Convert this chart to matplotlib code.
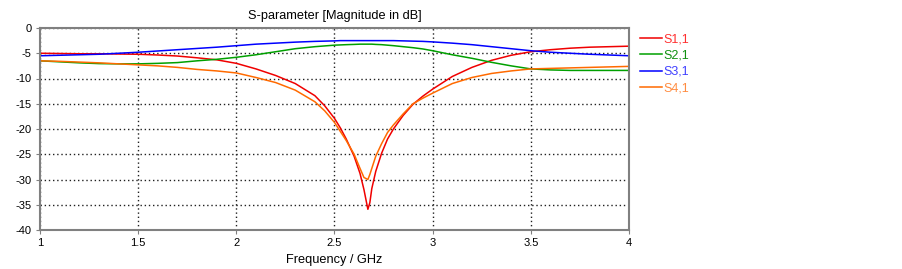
import matplotlib
matplotlib.use("Agg")
import matplotlib.pyplot as plt

plt.rcParams["font.family"] = ["Liberation Sans", "DejaVu Sans"]
plt.rcParams["axes.unicode_minus"] = False

# Frequency points (GHz)
freq = [1.0, 1.1, 1.2, 1.3, 1.4, 1.5, 1.6, 1.7, 1.8, 1.9, 2.0, 2.1, 2.2, 2.3, 2.4,
        2.45, 2.5, 2.53, 2.56, 2.6, 2.63, 2.65, 2.67, 2.68, 2.69, 2.71, 2.74, 2.77, 2.8,
        2.85, 2.9, 2.95, 3.0, 3.1, 3.2, 3.3, 3.4, 3.5, 3.6, 3.7, 3.8, 3.9, 4.0]

# Magnitudes in dB
s11 = [-5.0, -5.05, -5.1, -5.1, -5.15, -5.2, -5.35, -5.55, -5.9, -6.3, -7.0, -8.1, -9.4, -11.0, -13.4,
       -15.4, -17.9, -19.8, -22.0, -25.4, -28.8, -32.0, -35.9, -34.6, -31.8, -28.4, -24.8, -22.0, -20.0,
       -17.3, -15.1, -13.5, -12.1, -9.6, -7.8, -6.4, -5.4, -4.7, -4.3, -4.0, -3.8, -3.7, -3.6]
s21 = [-6.5, -6.7, -6.9, -7.05, -7.1, -7.1, -7.0, -6.85, -6.5, -6.2, -5.8, -5.3, -4.7, -4.1, -3.7,
       -3.55, -3.4, -3.35, -3.3, -3.25, -3.2, -3.2, -3.2, -3.2, -3.2, -3.25, -3.3, -3.4, -3.5,
       -3.7, -3.9, -4.15, -4.5, -5.3, -6.0, -6.8, -7.5, -8.1, -8.3, -8.4, -8.4, -8.4, -8.4]
s31 = [-5.5, -5.4, -5.3, -5.2, -5.0, -4.8, -4.55, -4.3, -4.05, -3.8, -3.5, -3.2, -3.0, -2.8, -2.65,
       -2.6, -2.55, -2.5, -2.5, -2.5, -2.5, -2.5, -2.5, -2.5, -2.5, -2.5, -2.5, -2.5, -2.5,
       -2.55, -2.6, -2.65, -2.75, -3.0, -3.3, -3.7, -4.1, -4.5, -4.8, -5.0, -5.2, -5.35, -5.5]
s41 = [-6.5, -6.6, -6.75, -6.9, -7.1, -7.3, -7.5, -7.8, -8.2, -8.5, -8.9, -9.8, -10.8, -12.3, -14.6,
       -16.4, -18.7, -20.5, -22.3, -25.0, -27.8, -29.6, -30.0, -29.0, -27.8, -25.4, -22.9, -20.7, -19.2,
       -17.0, -15.0, -13.9, -12.9, -11.0, -9.8, -9.0, -8.5, -8.1, -8.0, -7.9, -7.8, -7.7, -7.6]

labels = ["S1,1", "S2,1", "S3,1", "S4,1"]
colors = ["#f00000", "#00a000", "#0000ff", "#ff6a00"]
text_colors = ["#ff3030", "#109010", "#4040ff", "#ff8c40"]

fig = plt.figure(figsize=(9.03, 2.69), dpi=100)
ax = fig.add_axes([40 / 903, 1 - 230 / 269, 589 / 903, 202 / 269])

for y, lab, c in zip([s11, s21, s31, s41], labels, colors):
    ax.plot(freq, y, color=c, lw=1.1, label=lab)

ax.set_xlim(1, 4)
ax.set_ylim(-40, 0)
ax.set_xticks([1, 1.5, 2, 2.5, 3, 3.5, 4])
ax.set_xticklabels(["1", "1.5", "2", "2.5", "3", "3.5", "4"])
ax.set_yticks(range(-40, 1, 5))
ax.grid(True, ls=(0, (1, 2)), color="#202020", lw=1.0)
ax.tick_params(labelsize=8, length=3, color="#808080", pad=3)
for sp in ax.spines.values():
    sp.set_color("#808080")
    sp.set_linewidth(1.5)

ax.set_title("S-parameter [Magnitude in dB]", fontsize=9.2, pad=6.5)
ax.set_xlabel("Frequency / GHz", fontsize=9.2, labelpad=4)

leg = ax.legend(loc="upper left", bbox_to_anchor=(635 / 903, 1 - 28 / 269),
                bbox_transform=fig.transFigure, frameon=False, borderaxespad=0,
                fontsize=9, handlelength=1.75, handletextpad=0.15, labelspacing=0.36)
for t, c in zip(leg.get_texts(), text_colors):
    t.set_color(c)

fig.savefig("out.png", dpi=100)
